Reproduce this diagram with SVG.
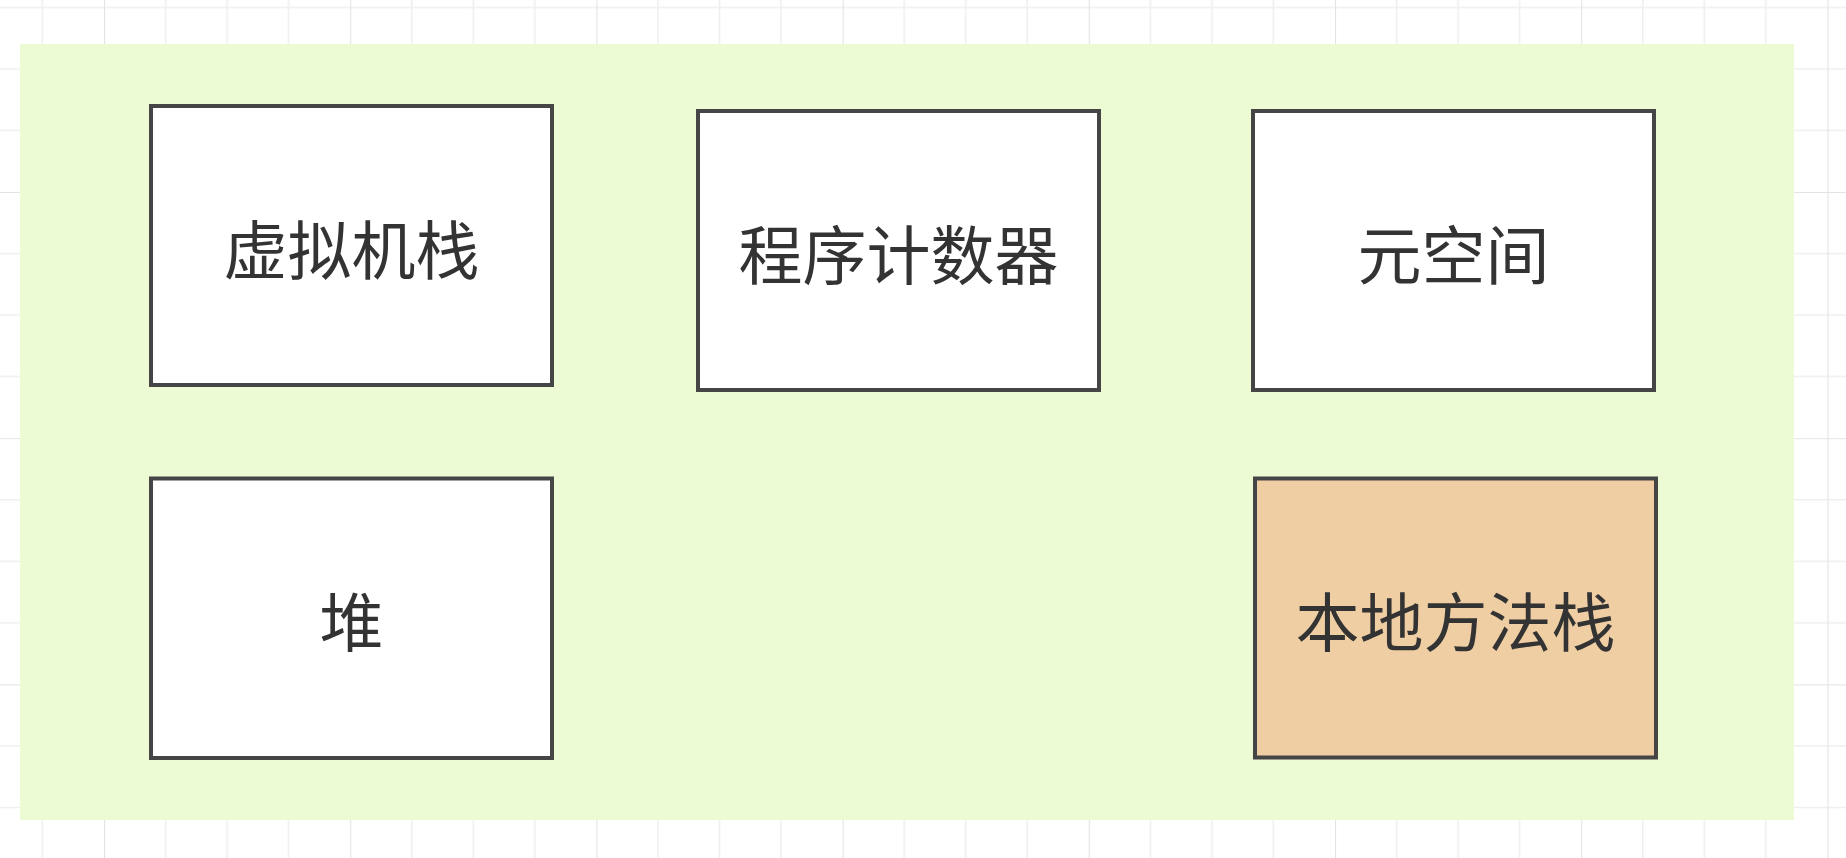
<svg xmlns="http://www.w3.org/2000/svg" width="1846" height="858" viewBox="0 0 1846 858">
  <defs>
    <pattern id="grid" patternUnits="userSpaceOnUse" x="104" y="192" width="246.2" height="246.2">
      <g stroke="#efefef" stroke-width="1.6" fill="none">
        <line x1="61.55" y1="0" x2="61.55" y2="246.2"/>
        <line x1="123.1" y1="0" x2="123.1" y2="246.2"/>
        <line x1="184.65" y1="0" x2="184.65" y2="246.2"/>
        <line x1="0" y1="61.55" x2="246.2" y2="61.55"/>
        <line x1="0" y1="123.1" x2="246.2" y2="123.1"/>
        <line x1="0" y1="184.65" x2="246.2" y2="184.65"/>
      </g>
      <g stroke="#e3e3e3" stroke-width="2.2" fill="none">
        <line x1="0" y1="0" x2="0" y2="246.2"/>
        <line x1="0" y1="0" x2="246.2" y2="0"/>
      </g>
    </pattern>
    <filter id="soft" x="-5%" y="-5%" width="110%" height="110%">
      <feGaussianBlur stdDeviation="0.6"/>
    </filter>
  </defs>
  <style>
    .box { stroke: #444444; stroke-width: 4; }
    .white { fill: #ffffff; }
    .peach { fill: #efcea4; }
    .label { font-family: "Noto Sans CJK SC", "Noto Sans", sans-serif; font-size: 64px; fill: #333333; text-anchor: middle; dominant-baseline: central; }
  </style>
  <rect x="0" y="0" width="1846" height="858" fill="#ffffff"/>
  <rect x="0" y="0" width="1846" height="858" fill="url(#grid)"/>

  <g id="container">
    <rect x="20" y="44" width="1774" height="776" fill="#edfbd4"/>
  </g>

  <g id="connectors"></g>

  <g id="node-vm-stack">
    <rect class="box white" x="151" y="106" width="401" height="279" filter="url(#soft)"/>
    <text class="label" x="351.5" y="245.5">虚拟机栈</text>
  </g>
  <g id="node-pc">
    <rect class="box white" x="698" y="111" width="401" height="279" filter="url(#soft)"/>
    <text class="label" x="898.5" y="250.5">程序计数器</text>
  </g>
  <g id="node-metaspace">
    <rect class="box white" x="1253" y="111" width="401" height="279" filter="url(#soft)"/>
    <text class="label" x="1453.5" y="250.5">元空间</text>
  </g>
  <g id="node-heap">
    <rect class="box white" x="151" y="478.5" width="401" height="279.5" filter="url(#soft)"/>
    <text class="label" x="351.5" y="618">堆</text>
  </g>
  <g id="node-native-stack">
    <rect class="box peach" x="1255" y="478.5" width="401" height="279" filter="url(#soft)"/>
    <text class="label" x="1455.5" y="618">本地方法栈</text>
  </g>
</svg>
